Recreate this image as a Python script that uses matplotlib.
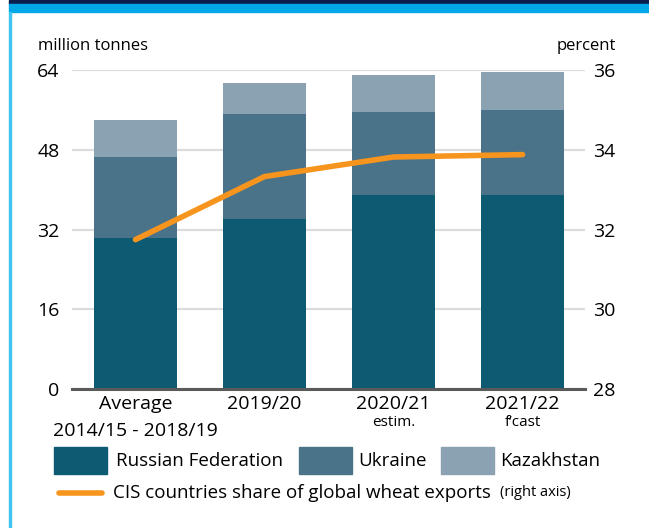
import matplotlib
matplotlib.use("Agg")
import matplotlib.pyplot as plt
from matplotlib.patches import Rectangle
from matplotlib.lines import Line2D
from matplotlib.transforms import blended_transform_factory

plt.rcParams['font.family'] = ['Open Sans', 'DejaVu Sans']

# data
categories = ["Average", "2019/20", "2020/21", "2021/22"]
sublabels = ["2014/15 - 2018/19", "", "estim.", "f\u2019cast"]
russia = [30.3, 34.1, 38.9, 38.9]
ukraine = [16.2, 21.0, 16.6, 17.0]
kazakhstan = [7.4, 6.2, 7.4, 7.6]
cis_share = [31.75, 33.33, 33.82, 33.88]

series_names = ["Russian Federation", "Ukraine", "Kazakhstan"]
colors = ["#0d5a73", "#4a7389", "#8aa2b1"]
orange = "#f7941d"

W, H = 649, 528
fig = plt.figure(figsize=(W / 100, H / 100), dpi=100)
fig.patch.set_facecolor("white")

# frame decorations
fig.patches.append(Rectangle((9 / W, 1 - 4 / H), 1, 4 / H, transform=fig.transFigure,
                             color="#0b1f4e", zorder=0))
fig.patches.append(Rectangle((9 / W, 1 - 12 / H), 1, 8 / H, transform=fig.transFigure,
                             color="#00a8e8", zorder=0))
fig.patches.append(Rectangle((9 / W, 0), 2 / W, 1 - 12 / H, transform=fig.transFigure,
                             color="#40c4f2", zorder=0))

ax = fig.add_axes([72 / W, 1 - 389.3 / H, 513 / W, 319.3 / H])
x = list(range(len(categories)))
bw = 0.643

bottom = [0] * len(x)
for vals, c in zip([russia, ukraine, kazakhstan], colors):
    ax.bar(x, vals, bw, bottom=bottom, color=c, zorder=2)
    bottom = [b + v for b, v in zip(bottom, vals)]

ax.set_xlim(-0.492, 3.484)
ax.set_ylim(0, 64)
ax.set_yticks([0, 16, 32, 48, 64])
ax.grid(axis="y", color="#dcdcdc", lw=1.6, zorder=0)
ax.axhline(0, color="#5a5a5a", lw=2.2, zorder=3, clip_on=False)
for s in ax.spines.values():
    s.set_visible(False)
ax.tick_params(axis="y", length=0, pad=9, labelsize=14)
ax.tick_params(axis="x", length=0, pad=4, labelsize=14)
ax.set_xticks(x)
ax.set_xticklabels(categories)

tr = blended_transform_factory(ax.transData, fig.transFigure)
for xi, sl in zip(x, sublabels):
    if sl == sublabels[0]:
        ax.text(xi, 1 - 431 / H, sl, transform=tr, ha="center", va="center", fontsize=14)
    elif sl:
        ax.text(xi, 1 - 423 / H, sl, transform=tr, ha="center", va="center", fontsize=11)

ax2 = ax.twinx()
ax2.set_ylim(28, 36)
ax2.set_yticks([28, 30, 32, 34, 36])
ax2.plot(x, cis_share, color=orange, lw=4, solid_capstyle="round", zorder=5)
for s in ax2.spines.values():
    s.set_visible(False)
ax2.tick_params(axis="y", length=0, pad=6, labelsize=14)

fig.text(38 / W, 1 - 46 / H, "million tonnes", fontsize=12, va="center")
fig.text(557 / W, 1 - 46 / H, "percent", fontsize=12, va="center")

# legend
patch_x = [54, 299, 441]
text_x = [116, 358, 500]
for px, tx, c, name in zip(patch_x, text_x, colors, series_names):
    fig.patches.append(Rectangle((px / W, 1 - 474 / H), 53 / W, 27 / H,
                                 transform=fig.transFigure, color=c))
    fig.text(tx / W, 1 - 461 / H, name, fontsize=13.5, va="center")

fig.lines.append(Line2D([59 / W, 102 / W], [1 - 493 / H, 1 - 493 / H], transform=fig.transFigure,
                        color=orange, lw=4, solid_capstyle="round"))
fig.text(113 / W, 1 - 493 / H, "CIS countries share of global wheat exports", fontsize=13.5, va="center")
fig.text(500 / W, 1 - 493 / H, "(right axis)", fontsize=10.5, va="center")

fig.savefig("out.png", dpi=100)
